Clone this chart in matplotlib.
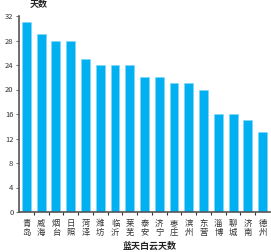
import matplotlib
matplotlib.use("Agg")
import matplotlib.pyplot as plt

plt.rcParams['font.family'] = ['Noto Sans CJK SC', 'DejaVu Sans']

cities = ["青岛", "威海", "烟台", "日照", "菏泽", "潍坊", "临沂", "莱芜", "泰安",
          "济宁", "枣庄", "滨州", "东营", "淄博", "聊城", "济南", "德州"]
days = [31, 29, 28, 28, 25, 24, 24, 24, 22, 22, 21, 21, 20, 16, 16, 15, 13]
yticks = [0, 4, 8, 12, 16, 20, 24, 28, 32]

fig = plt.figure(figsize=(2.71, 2.52), dpi=100)
ax = fig.add_axes([19 / 271, 1 - 212 / 252, 251 / 271, 196 / 252])

x = list(range(len(cities)))
ax.bar(x, days, width=0.6, color="#00B0F0", edgecolor="#7fd8f8", linewidth=0.4)

ax.set_xlim(-0.5, len(cities) - 0.5)
ax.set_ylim(0, 32)
ax.set_yticks(yticks)
ax.set_yticklabels([str(v) for v in yticks], fontsize=5.5, color="#333333")
ax.set_xticks(x)
ax.set_xticklabels(["\n".join(c) for c in cities], fontsize=6, color="#333333",
                   linespacing=1.0)
ax.tick_params(axis="x", length=0, pad=5)
ax.set_xticks([i + 0.5 for i in x[:-1]], minor=True)
ax.tick_params(axis="x", which="minor", length=2, width=0.8, color="#333333", direction="out")
ax.tick_params(axis="y", length=2, width=0.6, color="#555555", pad=2)

for side in ("top", "right"):
    ax.spines[side].set_visible(False)
ax.spines["left"].set_color("#555555")
ax.spines["left"].set_linewidth(1.2)
ax.spines["bottom"].set_color("#555555")
ax.spines["bottom"].set_linewidth(1.2)

fig.text(30 / 271, 1 - 5 / 252, "天数", fontsize=6.5, fontweight="bold",
         ha="left", va="center", color="#222222")
fig.text(150 / 271, 1 - 246 / 252, "蓝天白云天数", fontsize=6.5, fontweight="bold",
         ha="center", va="center", color="#222222")

fig.savefig("out.png", dpi=100)
